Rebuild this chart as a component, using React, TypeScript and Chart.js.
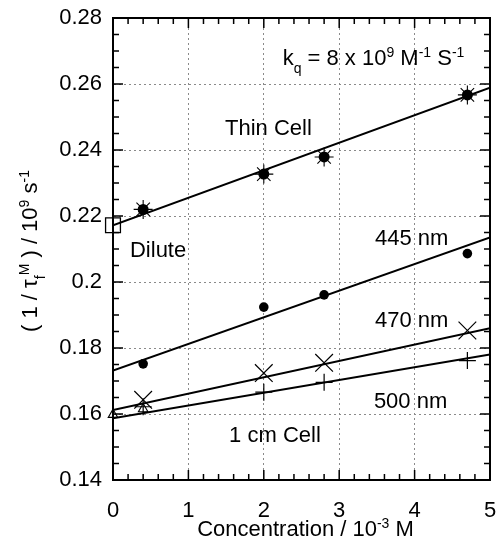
import React, { useEffect, useRef } from "react";
import { Chart, registerables } from "chart.js";

Chart.register(...registerables);

// ---------- data ----------
const xTickValues = [0, 1, 2, 3, 4, 5];
const xTickLabels = ["0", "1", "2", "3", "4", "5"];
const yTickValues = [0.14, 0.16, 0.18, 0.2, 0.22, 0.24, 0.26, 0.28];
const yTickLabels = ["0.14", "0.16", "0.18", "0.2", "0.22", "0.24", "0.26", "0.28"];

const concentration = [0.4, 2.0, 2.8, 4.7];
const thinCell = [0.222, 0.2327, 0.2379, 0.2567];
const nm445 = [0.1752, 0.1924, 0.1961, 0.2086];
const nm470 = [0.1643, 0.1724, 0.1755, 0.1853];
const nm500 = [0.1622, 0.1666, 0.1696, 0.1762];

const diluteX = [0];
const diluteY = [0.2172];
const triangleX = [0, 0.4];
const triangleY = [0.1598, 0.1615];

const fitX = [0, 5];
const fitThin = [0.2172, 0.2589];
const fit445 = [0.1732, 0.2135];
const fit470 = [0.1612, 0.186];
const fit500 = [0.1587, 0.178];

type Seg = { t: string; k?: "sup" | "sub" };

const annotations: { x: number; y: number; segs: Seg[] }[] = [
  {
    x: 2.25,
    y: 0.2658,
    segs: [
      { t: "k" },
      { t: "q", k: "sub" },
      { t: " = 8 x 10" },
      { t: "9", k: "sup" },
      { t: " M" },
      { t: "-1", k: "sup" },
      { t: " S" },
      { t: "-1", k: "sup" },
    ],
  },
  { x: 1.485, y: 0.2445, segs: [{ t: "Thin Cell" }] },
  { x: 0.225, y: 0.2076, segs: [{ t: "Dilute" }] },
  { x: 3.475, y: 0.2112, segs: [{ t: "445 nm" }] },
  { x: 3.475, y: 0.1864, segs: [{ t: "470 nm" }] },
  { x: 3.46, y: 0.1618, segs: [{ t: "500 nm" }] },
  { x: 1.54, y: 0.1515, segs: [{ t: "1 cm Cell" }] },
];

const xTitle: Seg[] = [
  { t: "Concentration / 10" },
  { t: "-3", k: "sup" },
  { t: " M" },
];
const yTitle: Seg[] = [
  { t: "( 1 / \u03c4" },
  { t: "f", k: "sub" },
  { t: "M", k: "sup" },
  { t: " ) / 10" },
  { t: "9", k: "sup" },
  { t: " s" },
  { t: "-1", k: "sup" },
];

const FONT = "'Liberation Sans', Arial, Helvetica, sans-serif";
const SIZE = 22;

function pts(xs: number[], ys: number[]) {
  return xs.map((x, i) => ({ x, y: ys[i] }));
}

function drawRich(
  ctx: CanvasRenderingContext2D,
  segs: Seg[],
  x: number,
  y: number,
  size: number,
  align: "left" | "center"
) {
  const small = Math.round(size * 0.64);
  const widths = segs.map((s) => {
    ctx.font = `${s.k ? small : size}px ${FONT}`;
    return ctx.measureText(s.t).width;
  });
  const total = widths.reduce((a, b) => a + b, 0);
  let cx = align === "center" ? x - total / 2 : x;
  ctx.textAlign = "left";
  ctx.textBaseline = "alphabetic";
  segs.forEach((s, i) => {
    ctx.font = `${s.k ? small : size}px ${FONT}`;
    const dy = s.k === "sup" ? -size * 0.37 : s.k === "sub" ? size * 0.36 : 0;
    ctx.fillText(s.t, cx, y + dy);
    cx += widths[i];
  });
}

const zeroPad = (s: any) => {
  s.paddingLeft = 0;
  s.paddingRight = 0;
  s.paddingTop = 0;
  s.paddingBottom = 0;
};

const framePlugin = {
  id: "frame",
  afterDatasetsDraw(chart: any) {
    const { ctx, chartArea } = chart;
    const xs = chart.scales.x;
    const ys = chart.scales.y;
    const { left, right, top, bottom } = chartArea;
    ctx.save();
    ctx.strokeStyle = "#000";
    ctx.lineWidth = 1.5;
    for (let i = 0; i <= 25; i++) {
      const v = i * 0.2;
      const px = xs.getPixelForValue(v);
      const len = i % 5 === 0 ? 10 : 6;
      ctx.beginPath();
      ctx.moveTo(px, bottom);
      ctx.lineTo(px, bottom - len);
      ctx.moveTo(px, top);
      ctx.lineTo(px, top + len);
      ctx.stroke();
    }
    for (let i = 0; i <= 28; i++) {
      const v = 0.14 + i * 0.005;
      const py = ys.getPixelForValue(v);
      const len = i % 4 === 0 ? 10 : 6;
      ctx.beginPath();
      ctx.moveTo(left, py);
      ctx.lineTo(left + len, py);
      ctx.moveTo(right, py);
      ctx.lineTo(right - len, py);
      ctx.stroke();
    }
    ctx.lineWidth = 2;
    ctx.strokeRect(left, top, right - left, bottom - top);
    ctx.restore();

    ctx.save();
    ctx.fillStyle = "#000";
    annotations.forEach((a) => {
      drawRich(ctx, a.segs, xs.getPixelForValue(a.x), ys.getPixelForValue(a.y), SIZE, "left");
    });
    drawRich(ctx, xTitle, (left + right) / 2 + 4, 536, SIZE, "center");
    ctx.translate(37, (top + bottom) / 2 + 2);
    ctx.rotate(-Math.PI / 2);
    drawRich(ctx, yTitle, 0, 0, SIZE, "center");
    ctx.restore();
  },
};

export default function App() {
  const ref = useRef<HTMLCanvasElement>(null);
  useEffect(() => {
    if (!ref.current) return;
    const lineDs = (ys: number[]) => ({
      type: "line" as const,
      data: pts(fitX, ys),
      showLine: true,
      borderColor: "#000",
      borderWidth: 2,
      pointRadius: 0,
      fill: false,
    });
    const chart = new Chart(ref.current, {
      type: "scatter",
      data: {
        datasets: [
          {
            data: pts(concentration, thinCell),
            pointStyle: "star",
            pointRadius: 9.5,
            borderColor: "#000",
            borderWidth: 1.1,
            backgroundColor: "#000",
          },
          {
            data: pts(concentration, thinCell),
            pointStyle: "circle",
            pointRadius: 5.5,
            borderColor: "#000",
            borderWidth: 0,
            backgroundColor: "#000",
          },
          {
            data: pts(concentration, nm445),
            pointStyle: "circle",
            pointRadius: 4.8,
            borderColor: "#000",
            borderWidth: 0,
            backgroundColor: "#000",
          },
          {
            data: pts(concentration, nm470),
            pointStyle: "crossRot",
            pointRadius: 12.5,
            borderColor: "#000",
            borderWidth: 1.2,
          },
          {
            data: pts(concentration, nm500),
            pointStyle: "cross",
            pointRadius: 8.5,
            borderColor: "#000",
            borderWidth: 1.2,
          },
          {
            data: pts(diluteX, diluteY),
            pointStyle: "rect",
            pointRadius: 10.5,
            borderColor: "#000",
            borderWidth: 1.3,
            backgroundColor: "rgba(0,0,0,0)",
            clip: false,
          },
          {
            data: pts(triangleX, triangleY),
            pointStyle: "triangle",
            pointRadius: 5.5,
            borderColor: "#000",
            borderWidth: 1.1,
            backgroundColor: "rgba(0,0,0,0)",
            clip: false,
          },
          lineDs(fitThin),
          lineDs(fit445),
          lineDs(fit470),
          lineDs(fit500),
        ] as any,
      },
      options: {
        animation: false,
        responsive: false,
        devicePixelRatio: 1,
        layout: { autoPadding: false, padding: { top: 18, right: 6, left: 0, bottom: 0 } },
        plugins: {
          legend: { display: false },
          tooltip: { enabled: false },
        },
        scales: {
          x: {
            type: "linear",
            min: 0,
            max: 5,
            afterBuildTicks: (axis: any) => {
              axis.ticks = xTickValues.map((v) => ({ value: v }));
            },
            afterFit: (s: any) => {
              s.height = 64;
              zeroPad(s);
            },
            grid: { color: "#8a8a8a", lineWidth: 1, drawTicks: false },
            border: { display: true, color: "#000", width: 2, dash: [2, 3] },
            ticks: {
              color: "#000",
              font: { family: FONT, size: SIZE },
              padding: 18,
              maxRotation: 0,
              autoSkip: false,
              callback: (_v: any, i: number) => xTickLabels[i],
            },
          },
          y: {
            type: "linear",
            min: 0.14,
            max: 0.28,
            afterBuildTicks: (axis: any) => {
              axis.ticks = yTickValues.map((v) => ({ value: v }));
            },
            afterFit: (s: any) => {
              s.width = 113;
              zeroPad(s);
            },
            grid: { color: "#8a8a8a", lineWidth: 1, drawTicks: false },
            border: { display: true, color: "#000", width: 2, dash: [2, 3] },
            ticks: {
              color: "#000",
              font: { family: FONT, size: SIZE },
              padding: 11,
              autoSkip: false,
              callback: (_v: any, i: number) => yTickLabels[i],
            },
          },
        },
      } as any,
      plugins: [framePlugin],
    });
    return () => chart.destroy();
  }, []);

  return (
    <div style={{ position: "fixed", left: 0, top: 0, width: 496, height: 544, background: "#fff" }}>
      <canvas ref={ref} width={496} height={544} style={{ width: 496, height: 544, display: "block" }} />
    </div>
  );
}
